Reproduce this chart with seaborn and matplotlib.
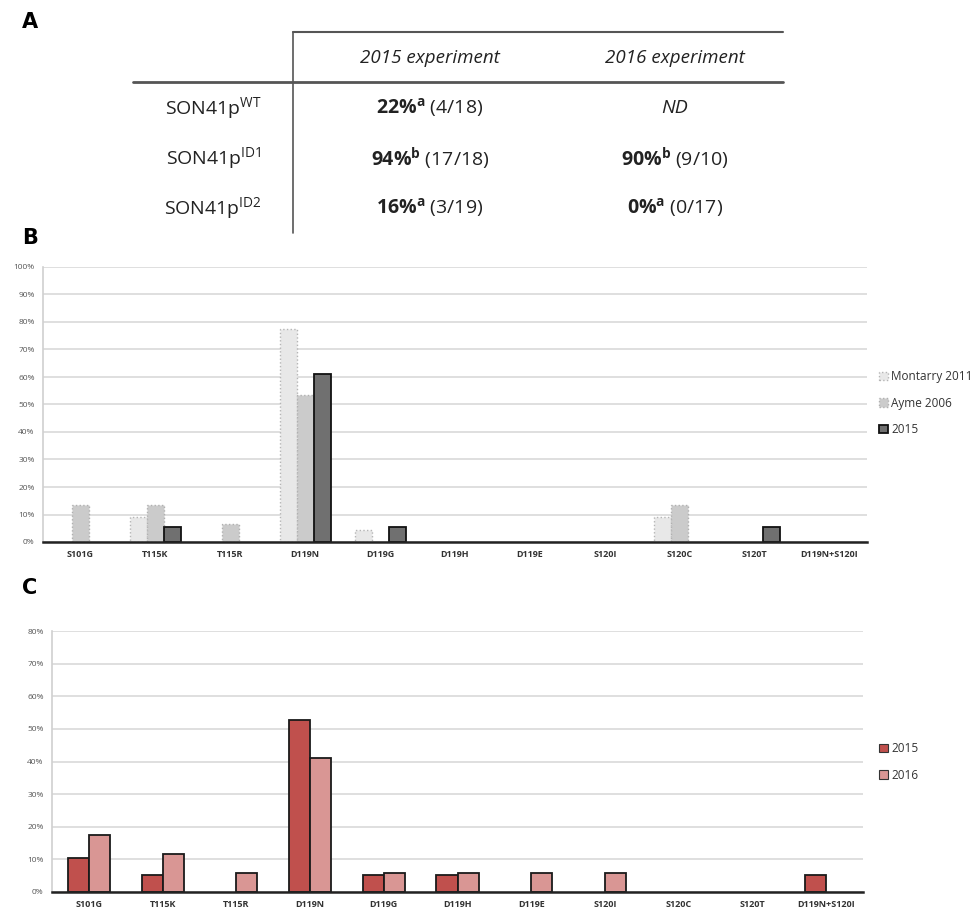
import numpy as np
import pandas as pd
import matplotlib
matplotlib.use("Agg")
import matplotlib.pyplot as plt
import seaborn as sns
from matplotlib.lines import Line2D

# ---------------- data ----------------
mutations = ["S101G", "T115K", "T115R", "D119N", "D119G", "D119H",
             "D119E", "S120I", "S120C", "S120T", "D119N+S120I"]

montarry_2011 = [0.0, 9.1, 0.0, 77.3, 4.5, 0.0, 0.0, 0.0, 9.1, 0.0, 0.0]
ayme_2006 = [13.3, 13.3, 6.7, 53.3, 0.0, 0.0, 0.0, 0.0, 13.3, 0.0, 0.0]
b_2015 = [0.0, 5.6, 0.0, 61.1, 5.6, 0.0, 0.0, 0.0, 0.0, 5.6, 0.0]

c_2015 = [10.5, 5.3, 0.0, 52.6, 5.3, 5.3, 0.0, 0.0, 0.0, 0.0, 5.3]
c_2016 = [17.6, 11.8, 5.9, 41.2, 5.9, 5.9, 5.9, 5.9, 0.0, 0.0, 0.0]

table_rows = ["SON41p$^{\\mathrm{WT}}$", "SON41p$^{\\mathrm{ID1}}$", "SON41p$^{\\mathrm{ID2}}$"]
table_cols = ["2015 experiment", "2016 experiment"]
table_2015 = [("22%", "a", "(4/18)"), ("94%", "b", "(17/18)"), ("16%", "a", "(3/19)")]
table_2016 = [None, ("90%", "b", "(9/10)"), ("0%", "a", "(0/17)")]

# ---------------- style ----------------
sns.set_theme(style="white")
plt.rcParams["font.family"] = ["Open Sans", "DejaVu Sans"]
plt.rcParams["mathtext.fontset"] = "custom"
plt.rcParams["mathtext.rm"] = "Open Sans"
plt.rcParams["mathtext.bf"] = "Open Sans:bold"
plt.rcParams["mathtext.it"] = "Open Sans:italic"

W, H = 971, 915
fig = plt.figure(figsize=(W / 100, H / 100), dpi=100)
fig.patch.set_facecolor("white")


def fx(px):
    return px / W


def fy(py):
    return 1 - py / H


# ---------------- panel A (table) ----------------
for lbl, (lx, ly) in zip(["A", "B", "C"], [(22, 22), (22, 238), (22, 588)]):
    fig.text(fx(lx), fy(ly), lbl, fontsize=15, fontweight="bold", family="DejaVu Sans",
             ha="left", va="center", color="black")

lc = "#555555"
fig.add_artist(Line2D([fx(293), fx(783)], [fy(32), fy(32)], color=lc, lw=1.5))
fig.add_artist(Line2D([fx(133), fx(783)], [fy(82), fy(82)], color=lc, lw=2.0))
fig.add_artist(Line2D([fx(293), fx(293)], [fy(32), fy(233)], color=lc, lw=1.2))

col_x = [430, 675]
row_y = [108, 158, 208]
for cx, name in zip(col_x, table_cols):
    fig.text(fx(cx), fy(58), name, fontsize=13.5, style="italic", ha="center",
             va="center", color="#222222")

for ry, lab in zip(row_y, table_rows):
    fig.text(fx(262), fy(ry), lab, fontsize=14, ha="right", va="center", color="#222222")


def cell(v):
    pct, sup, frac = v
    pct_tex = pct.replace("%", "\\%")
    return "$\\mathbf{" + pct_tex + "}^{\\mathbf{" + sup + "}}$ " + frac


for ry, v in zip(row_y, table_2015):
    fig.text(fx(col_x[0]), fy(ry), cell(v), fontsize=14, ha="center", va="center",
             color="#222222")
for ry, v in zip(row_y, table_2016):
    if v is None:
        fig.text(fx(col_x[1]), fy(ry), "ND", fontsize=14, style="italic", ha="center",
                 va="center", color="#222222")
    else:
        fig.text(fx(col_x[1]), fy(ry), cell(v), fontsize=14, ha="center", va="center",
                 color="#222222")


# ---------------- helpers ----------------
def style_axis(ax, ymax):
    ax.set_xlim(-0.5, len(mutations) - 0.5)
    ax.set_ylim(0, ymax)
    ax.set_yticks(np.arange(0, ymax + 1, 10))
    ax.set_yticklabels([f"{int(t)}%" for t in np.arange(0, ymax + 1, 10)],
                       fontsize=6, color="#555555")
    ax.yaxis.grid(True, color="#d9d9d9", lw=1.2)
    ax.set_axisbelow(True)
    for s in ["top", "right"]:
        ax.spines[s].set_visible(False)
    ax.spines["left"].set_color("#d0d0d0")
    ax.spines["left"].set_linewidth(1.2)
    ax.spines["bottom"].set_color("#222222")
    ax.spines["bottom"].set_linewidth(1.8)
    ax.tick_params(axis="y", length=0, pad=6)
    ax.set_xticks(range(len(mutations)))
    ax.set_xticklabels(mutations, fontsize=6.5, fontweight="bold", color="#333333")
    ax.tick_params(axis="x", which="major", length=0, pad=6)
    ax.set_xticks(np.arange(-0.5, len(mutations), 1), minor=True)
    ax.tick_params(axis="x", which="minor", length=4, width=1.4, color="#222222",
                   direction="out")
    ax.set_xlabel("")
    ax.set_ylabel("")


# ---------------- panel B ----------------
axB = fig.add_axes([fx(43), fy(542), fx(867) - fx(43), fy(267) - fy(542)])
dfB = pd.DataFrame({
    "mutation": mutations * 3,
    "value": montarry_2011 + ayme_2006 + b_2015,
    "source": ["Montarry 2011"] * 11 + ["Ayme 2006"] * 11 + ["2015"] * 11,
})
palB = {"Montarry 2011": "#e8e8e8", "Ayme 2006": "#cbcbcb", "2015": "#707070"}
sns.barplot(data=dfB, x="mutation", y="value", hue="source", palette=palB,
            width=0.68, gap=0, ax=axB, legend=True, saturation=1)
edgesB = {"Montarry 2011": ("#b5b5b5", ":", 1.0), "Ayme 2006": ("#b0b0b0", ":", 1.0),
          "2015": ("#111111", "-", 1.3)}
for cont, name in zip(axB.containers, ["Montarry 2011", "Ayme 2006", "2015"]):
    ec, ls, lw = edgesB[name]
    for p in cont.patches:
        if p.get_height() > 0:
            p.set_edgecolor(ec)
            p.set_linestyle(ls)
            p.set_linewidth(lw)
        else:
            p.set_linewidth(0)
style_axis(axB, 100)
hB, lB = axB.get_legend_handles_labels()
axB.legend_.remove()
for h, name in zip(hB, lB):
    ec, ls, lw = edgesB[name]
    h.set_edgecolor(ec)
    h.set_linestyle(ls)
    h.set_linewidth(lw)
legB = axB.legend(hB, lB, loc="center left", bbox_to_anchor=(1.005, 0.505), frameon=False,
                  fontsize=8.5, handlelength=0.75, handleheight=0.75, handletextpad=0.25,
                  labelspacing=1.15, borderaxespad=0.3)
for t in legB.get_texts():
    t.set_color("#333333")

# ---------------- panel C ----------------
axC = fig.add_axes([fx(52), fy(892), fx(863) - fx(52), fy(631) - fy(892)])
dfC = pd.DataFrame({
    "mutation": mutations * 2,
    "value": c_2015 + c_2016,
    "year": ["2015"] * 11 + ["2016"] * 11,
})
palC = {"2015": "#c0504d", "2016": "#d99694"}
sns.barplot(data=dfC, x="mutation", y="value", hue="year", palette=palC,
            width=0.57, gap=0, ax=axC, legend=True, saturation=1)
for cont in axC.containers:
    for p in cont.patches:
        if p.get_height() > 0:
            p.set_edgecolor("#1a1a1a")
            p.set_linewidth(1.3)
        else:
            p.set_linewidth(0)
style_axis(axC, 80)
hC, lC = axC.get_legend_handles_labels()
axC.legend_.remove()
for h in hC:
    h.set_edgecolor("#333333")
    h.set_linewidth(0.8)
legC = axC.legend(hC, lC, loc="center left", bbox_to_anchor=(1.01, 0.498), frameon=False,
                  fontsize=8.5, handlelength=0.75, handleheight=0.75, handletextpad=0.25,
                  labelspacing=1.15, borderaxespad=0.3)
for t in legC.get_texts():
    t.set_color("#333333")

fig.savefig("out.png", dpi=100, facecolor="white")
